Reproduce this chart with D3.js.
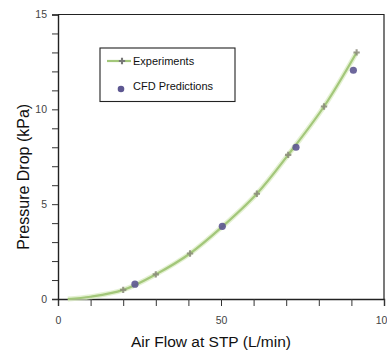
<!DOCTYPE html>
<html>
<head>
<meta charset="utf-8">
<script src="https://cdn.jsdelivr.net/npm/d3@7"></script>
<style>
  body { margin: 0; background: #fff; }
  svg { display: block; font-family: "Liberation Sans", Arial, sans-serif; }
</style>
</head>
<body>
<div id="chart"></div>
<script>
// air flow (L/min) vs pressure drop (kPa)
const expFlow = [20, 30, 40.5, 61, 70.6, 81.6, 91.6];
const expDrop = [0.48, 1.3, 2.4, 5.55, 7.6, 10.15, 13.0];
const cfdFlow = [23.6, 50.4, 73, 90.6];
const cfdDrop = [0.78, 3.83, 8.0, 12.06];
// green curve through the experiments
const curveFlow = [3, 10, 20, 30, 40.5, 50, 61, 70.6, 81.6, 91.6];
const curveDrop = [0, 0.12, 0.48, 1.3, 2.4, 3.75, 5.55, 7.6, 10.15, 13.0];

const xTicks = [0, 10, 20, 30, 40, 50, 60, 70, 80, 90, 100];
const xLabels = [0, 50, 100];
const yTicks = d3.range(0, 16);
const yLabels = [0, 5, 10, 15];

const width = 387, height = 354;
const margin = { top: 14.5, right: 3, bottom: 55, left: 58 };

const svg = d3.select("#chart").append("svg")
    .attr("width", width)
    .attr("height", height);

const x = d3.scaleLinear().domain([0, 100]).range([margin.left, width - margin.right]);
const y = d3.scaleLinear().domain([0, 15]).range([height - margin.bottom, margin.top]);

// frame lines top/right
svg.append("path")
    .attr("d", `M${x(0)},${y(15)}H${x(100)}V${y(0)}`)
    .attr("fill", "none")
    .attr("stroke", "#222")
    .attr("stroke-width", 1.2);

// axes
const xAxis = svg.append("g")
    .attr("transform", `translate(0,${y(0)})`)
    .call(d3.axisBottom(x).tickValues(xTicks).tickSize(7)
        .tickFormat(d => xLabels.includes(d) ? d : ""));
const yAxis = svg.append("g")
    .attr("transform", `translate(${x(0)},0)`)
    .call(d3.axisLeft(y).tickValues(yTicks).tickSize(6)
        .tickFormat(d => yLabels.includes(d) ? d : ""));

[xAxis, yAxis].forEach(g => {
    g.select(".domain").attr("stroke", "#222").attr("stroke-width", 1.4);
    g.selectAll(".tick line").attr("stroke", "#333").attr("stroke-width", 1);
    g.selectAll(".tick text").attr("fill", "#444").attr("font-size", 10.5)
        .attr("font-family", "Liberation Sans, Arial, sans-serif");
});
xAxis.selectAll(".tick text").attr("dy", "1.4em");
yAxis.selectAll(".tick text").attr("x", -11);

// trend curve
const line = d3.line()
    .x(i => x(curveFlow[i]))
    .y(i => y(curveDrop[i]))
    .curve(d3.curveCatmullRom);
const idx = d3.range(curveFlow.length);
svg.append("path").datum(idx)
    .attr("d", line)
    .attr("fill", "none")
    .attr("stroke", "#d8ebbf")
    .attr("stroke-width", 5)
    .attr("opacity", 0.7);
svg.append("path").datum(idx)
    .attr("d", line)
    .attr("fill", "none")
    .attr("stroke", "#a3c77a")
    .attr("stroke-width", 2.2);

// experiment markers
const cross = d3.symbol().type(d3.symbolCross).size(22);
svg.append("g").selectAll("path")
    .data(d3.range(expFlow.length))
    .join("path")
    .attr("transform", i => `translate(${x(expFlow[i])},${y(expDrop[i])})`)
    .attr("d", cross)
    .attr("fill", "#8a8a7a")
    .attr("opacity", 0.85);

// CFD markers
svg.append("g").selectAll("circle")
    .data(d3.range(cfdFlow.length))
    .join("circle")
    .attr("cx", i => x(cfdFlow[i]))
    .attr("cy", i => y(cfdDrop[i]))
    .attr("r", 3.6)
    .attr("fill", "#5d5791")
    .attr("opacity", 0.9);

// legend
const lg = svg.append("g").attr("transform", "translate(100,48)");
lg.append("rect")
    .attr("width", 135).attr("height", 53.5)
    .attr("fill", "#fff")
    .attr("stroke", "#222").attr("stroke-width", 1.1);
lg.append("line")
    .attr("x1", 7).attr("x2", 31).attr("y1", 13).attr("y2", 13)
    .attr("stroke", "#a3c77a").attr("stroke-width", 2.2);
lg.append("path")
    .attr("transform", "translate(22,13)")
    .attr("d", cross)
    .attr("fill", "#777");
lg.append("text")
    .attr("x", 33).attr("y", 17)
    .attr("font-size", 11).attr("fill", "#111")
    .text("Experiments");
lg.append("circle")
    .attr("cx", 21).attr("cy", 41).attr("r", 3.3)
    .attr("fill", "#5d5791");
lg.append("text")
    .attr("x", 33).attr("y", 42)
    .attr("font-size", 11).attr("fill", "#111")
    .text("CFD Predictions");

// axis titles
svg.append("text")
    .attr("x", 211).attr("y", 347)
    .attr("text-anchor", "middle")
    .attr("font-size", 15.5).attr("fill", "#111")
    .text("Air Flow at STP (L/min)");
svg.append("text")
    .attr("transform", `translate(29,${(y(0) + y(15)) / 2 + 20}) rotate(-90)`)
    .attr("text-anchor", "middle")
    .attr("font-size", 16).attr("fill", "#111")
    .text("Pressure Drop (kPa)");
</script>
</body>
</html>
